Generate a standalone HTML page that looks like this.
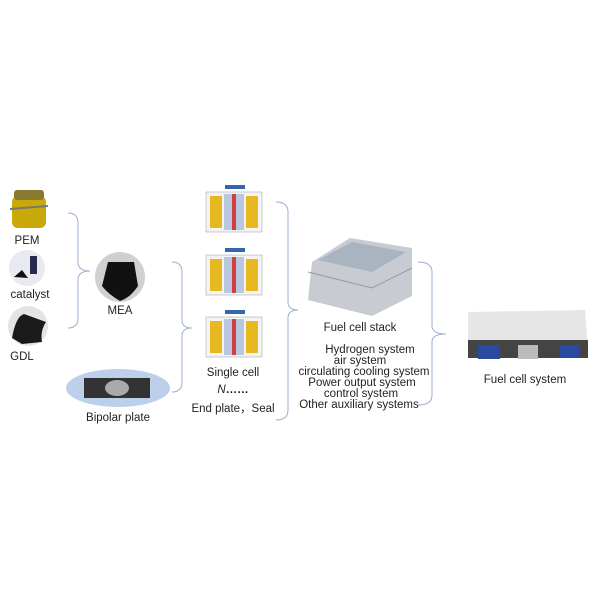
<!DOCTYPE html>
<html><head><style>
body{margin:0;background:#fff;}
svg text{font-family:"Liberation Sans","Noto Sans CJK SC",sans-serif;font-size:11.5px;fill:#222;}
</style></head><body>
<svg width="600" height="600" viewBox="0 0 600 600" xmlns="http://www.w3.org/2000/svg">
<g fill="none" stroke="#9fb0cc" stroke-width="1">
<path d="M68,213 Q78,213 78,223 L78,262 Q78,271 90,271 Q78,271 78,280 L78,318 Q78,328 68,328"/>
<path d="M172,262 Q182,262 182,272 L182,320 Q182,328 192,328 Q182,328 182,336 L182,382 Q182,392 172,392"/>
<path d="M276,202 Q288,202 288,212 L288,302 Q288,310 298,310 Q288,310 288,318 L288,410 Q288,420 276,420"/>
<path d="M418,262 Q432,262 432,272 L432,326 Q432,334 446,334 Q432,334 432,342 L432,395 Q432,405 418,405"/>
</g>
<!-- PEM -->
<rect x="12" y="196" width="34" height="32" rx="6" fill="#c9a80a"/>
<rect x="14" y="190" width="30" height="10" rx="3" fill="#8a7a30"/>
<path d="M10,209 L48,206" stroke="#777" stroke-width="2"/>
<!-- catalyst -->
<circle cx="27" cy="268" r="18" fill="#e8eaf0"/>
<rect x="30" y="256" width="7" height="18" fill="#2a2a50"/>
<path d="M14,277 L22,270 L28,278 Z" fill="#111"/>
<!-- GDL -->
<circle cx="28" cy="326" r="20" fill="#e4e4e4"/>
<path d="M12,338 Q16,316 24,314 L46,322 Q40,331 42,342 L22,344 Z" fill="#1a1a1a"/>
<!-- MEA -->
<circle cx="120" cy="277" r="25" fill="#d0d0d0"/>
<path d="M108,262 L134,262 L138,286 Q130,298 120,301 Q108,294 102,286 Z" fill="#111"/>
<!-- bipolar -->
<ellipse cx="118" cy="388" rx="52" ry="19" fill="#bcd0ec"/>
<rect x="84" y="378" width="66" height="20" fill="#333"/>
<ellipse cx="117" cy="388" rx="12" ry="8" fill="#aaa"/>
<!-- single cells -->
<g id="c">
<rect x="225" y="185" width="20" height="4" fill="#3366aa"/>
<rect x="206" y="192" width="56" height="40" fill="#f4f4f4" stroke="#999" stroke-width="0.5"/>
<rect x="210" y="196" width="12" height="32" fill="#e8b820"/>
<rect x="246" y="196" width="12" height="32" fill="#e8b820"/>
<rect x="224" y="194" width="20" height="36" fill="#b8c8e0"/>
<rect x="232" y="194" width="4" height="36" fill="#d04040"/>
</g>
<use href="#c" y="63"/>
<use href="#c" y="125"/>
<!-- stack -->
<path d="M312,262 L350,238 L412,248 L412,296 L372,316 L308,300 Z" fill="#c8ccd2"/>
<path d="M318,260 L352,242 L406,252 L372,272 Z" fill="#a8b4c0"/>
<path d="M308,272 L372,288 L412,268" stroke="#999" fill="none"/>
<!-- system -->
<path d="M468,312 L585,310 L588,350 L468,352 Z" fill="#e6e6e6"/>
<rect x="468" y="340" width="120" height="18" fill="#444"/>
<rect x="478" y="345" width="22" height="14" fill="#2a4aa0"/>
<rect x="560" y="345" width="20" height="12" fill="#2a4aa0"/>
<rect x="518" y="345" width="20" height="14" fill="#bbb"/>
<text x="27" y="244" text-anchor="middle">PEM</text>
<text x="30" y="298" text-anchor="middle">catalyst</text>
<text x="22" y="360" text-anchor="middle">GDL</text>
<text x="120" y="314" text-anchor="middle">MEA</text>
<text x="118" y="421" text-anchor="middle">Bipolar plate</text>
<text x="233" y="376" text-anchor="middle">Single cell</text>
<text x="233" y="393" text-anchor="middle" font-style="italic">N<tspan font-style="normal" font-weight="bold">……</tspan></text>
<text x="233" y="412" text-anchor="middle">End plate，Seal</text>
<text x="360" y="331" text-anchor="middle">Fuel cell stack</text>
<text x="370" y="353" text-anchor="middle">Hydrogen system</text>
<text x="360" y="364" text-anchor="middle">air system</text>
<text x="364" y="375" text-anchor="middle">circulating cooling system</text>
<text x="362" y="386" text-anchor="middle">Power output system</text>
<text x="361" y="397" text-anchor="middle">control system</text>
<text x="359" y="408" text-anchor="middle">Other auxiliary systems</text>
<text x="525" y="383" text-anchor="middle">Fuel cell system</text>
</svg>
</body></html>
